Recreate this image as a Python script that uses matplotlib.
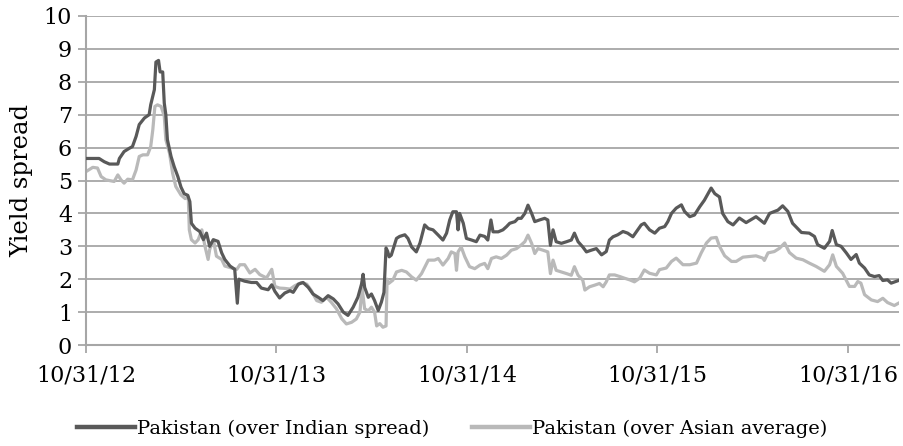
import matplotlib
matplotlib.use("Agg")
import matplotlib.pyplot as plt
import matplotlib.dates as mdates
import pandas as pd

plt.rcParams['font.family'] = ['DejaVu Serif', 'Liberation Serif']

start_date = "2012-10-31"
end_date = "2017-02-05"
tick_dates = ["2012-10-31", "2013-10-31", "2014-10-31", "2015-10-31", "2016-10-31"]
y_ticks = [0, 1, 2, 3, 4, 5, 6, 7, 8, 9, 10]
series_names = ["Pakistan (over Indian spread)", "Pakistan (over Asian average)"]
y_label = "Yield spread"

# days since 2012-10-31
india_days = [0, 25, 35, 45, 61, 64, 73, 83, 89, 96, 102, 112, 121, 124, 131, 134, 139, 142, 147, 150,
              153, 156, 163, 169, 176, 182, 188, 195, 199, 202, 209, 218, 225, 231, 237, 244, 253, 260,
              266, 276, 285, 290, 293, 304, 317, 327, 336, 349, 356, 362, 371, 381, 391, 397, 407, 416,
              426, 435, 445, 454, 464, 474, 483, 493, 502, 512, 521, 528, 531, 534, 541, 547, 553, 560,
              566, 571, 575, 578, 581, 585, 595, 601, 611, 617, 624, 633, 640, 649, 656, 665, 675, 684,
              691, 697, 703, 710, 713, 716, 723, 729, 739, 748, 755, 764, 770, 776, 780, 790, 799, 806,
              812, 822, 828, 834, 841, 847, 854, 860, 869, 879, 885, 890, 895, 901, 911, 921, 930, 936,
              943, 952, 959, 968, 978, 988, 997, 1003, 1010, 1019, 1029, 1038, 1048, 1055, 1064, 1070,
              1080, 1090, 1099, 1109, 1115, 1122, 1131, 1141, 1147, 1157, 1166, 1176, 1185, 1192, 1198,
              1205, 1214, 1220, 1230, 1240, 1252, 1265, 1284, 1300, 1310, 1326, 1335, 1345, 1354, 1371,
              1386, 1396, 1402, 1415, 1425, 1430, 1438, 1447, 1457, 1466, 1476, 1482, 1492, 1501, 1511,
              1520, 1527, 1536, 1543, 1552, 1557]
india_vals = [5.67, 5.67, 5.57, 5.5, 5.5, 5.67, 5.88, 5.98, 6.03, 6.34, 6.7, 6.9, 7.0, 7.3, 7.76, 8.6,
              8.65, 8.3, 8.3, 7.35, 7.0, 6.24, 5.73, 5.42, 5.12, 4.8, 4.6, 4.55, 4.36, 3.7, 3.55, 3.45,
              3.2, 3.4, 3.0, 3.2, 3.15, 2.8, 2.6, 2.4, 2.3, 1.27, 2.0, 1.94, 1.9, 1.9, 1.73, 1.68, 1.83,
              1.63, 1.43, 1.58, 1.65, 1.6, 1.85, 1.9, 1.75, 1.55, 1.45, 1.35, 1.5, 1.4, 1.25, 1.0, 0.9,
              1.15, 1.45, 1.85, 2.15, 1.75, 1.45, 1.55, 1.35, 1.05, 1.3, 1.6, 2.95, 2.85, 2.68, 2.73,
              3.24, 3.3, 3.35, 3.24, 2.98, 2.83, 3.1, 3.65, 3.54, 3.5, 3.34, 3.19, 3.4, 3.8, 4.05, 4.05,
              3.5, 4.0, 3.7, 3.24, 3.19, 3.14, 3.34, 3.3, 3.19, 3.8, 3.44, 3.44, 3.5, 3.6, 3.7, 3.75,
              3.85, 3.85, 4.0, 4.25, 4.0, 3.75, 3.8, 3.85, 3.8, 3.03, 3.5, 3.14, 3.09, 3.14, 3.19, 3.4,
              3.14, 2.98, 2.83, 2.88, 2.93, 2.74, 2.84, 3.19, 3.29, 3.35, 3.45, 3.4, 3.29, 3.45, 3.65,
              3.7, 3.5, 3.4, 3.55, 3.6, 3.75, 4.0, 4.16, 4.26, 4.06, 3.9, 3.95, 4.2, 4.4, 4.6, 4.77,
              4.6, 4.5, 4.0, 3.75, 3.65, 3.86, 3.72, 3.9, 3.7, 4.0, 4.1, 4.23, 4.06, 3.7, 3.42, 3.4,
              3.3, 3.05, 2.94, 3.15, 3.48, 3.05, 3.0, 2.8, 2.6, 2.75, 2.49, 2.34, 2.13, 2.08, 2.11,
              1.96, 1.98, 1.88, 1.93, 1.96]

asia_days = [0, 13, 22, 29, 38, 54, 61, 67, 73, 80, 89, 96, 102, 109, 118, 124, 128, 132, 137, 144,
             150, 153, 160, 166, 172, 182, 190, 196, 198, 202, 209, 215, 222, 228, 234, 237, 244, 250,
             260, 266, 279, 289, 295, 304, 314, 324, 333, 346, 356, 362, 371, 381, 391, 400, 413, 423,
             432, 442, 451, 461, 470, 480, 490, 499, 509, 518, 525, 529, 534, 541, 547, 553, 557, 563,
             569, 575, 577, 580, 588, 595, 605, 614, 624, 633, 643, 656, 668, 675, 684, 694, 700, 707,
             710, 713, 719, 726, 735, 745, 755, 764, 770, 777, 786, 796, 806, 815, 825, 834, 841, 847,
             854, 860, 866, 876, 885, 890, 895, 901, 911, 921, 930, 936, 943, 952, 956, 965, 975, 984,
             991, 997, 1003, 1013, 1023, 1032, 1042, 1051, 1061, 1070, 1080, 1093, 1099, 1112, 1122,
             1131, 1144, 1157, 1170, 1179, 1189, 1198, 1208, 1214, 1224, 1237, 1246, 1259, 1272, 1284,
             1297, 1300, 1307, 1319, 1329, 1339, 1348, 1361, 1374, 1386, 1399, 1415, 1425, 1431, 1438,
             1450, 1463, 1473, 1479, 1485, 1492, 1505, 1517, 1527, 1536, 1549, 1557]
asia_vals = [5.27, 5.4, 5.38, 5.12, 5.02, 4.97, 5.17, 5.02, 4.92, 5.04, 5.02, 5.32, 5.73, 5.78, 5.78,
             6.03, 6.54, 7.25, 7.3, 7.25, 6.95, 6.24, 5.83, 5.22, 4.82, 4.56, 4.45, 4.5, 3.5, 3.2, 3.1,
             3.2, 3.5, 3.0, 2.6, 2.9, 3.2, 2.7, 2.6, 2.4, 2.34, 2.3, 2.44, 2.44, 2.19, 2.3, 2.14, 2.04,
             2.3, 1.78, 1.73, 1.72, 1.7, 1.8, 1.9, 1.85, 1.65, 1.35, 1.3, 1.45, 1.3, 1.1, 0.8, 0.64,
             0.69, 0.79, 1.0, 1.75, 1.1, 1.04, 1.15, 1.0, 0.58, 0.65, 0.54, 0.58, 2.0, 1.87, 1.97, 2.22,
             2.27, 2.22, 2.07, 1.97, 2.17, 2.58, 2.58, 2.63, 2.43, 2.63, 2.83, 2.78, 2.27, 2.83, 2.98,
             2.68, 2.38, 2.32, 2.43, 2.48, 2.32, 2.63, 2.68, 2.63, 2.73, 2.88, 2.93, 3.04, 3.14, 3.34,
             3.09, 2.78, 2.93, 2.88, 2.83, 2.17, 2.58, 2.27, 2.22, 2.17, 2.12, 2.38, 2.12, 1.97, 1.67,
             1.77, 1.82, 1.87, 1.77, 1.92, 2.13, 2.13, 2.08, 2.03, 1.98, 1.92, 2.03, 2.28, 2.18, 2.13,
             2.29, 2.34, 2.54, 2.64, 2.44, 2.44, 2.49, 2.8, 3.1, 3.25, 3.27, 3.0, 2.71, 2.54, 2.54,
             2.67, 2.69, 2.71, 2.64, 2.57, 2.8, 2.84, 2.94, 3.1, 2.81, 2.64, 2.59, 2.49, 2.39, 2.24,
             2.44, 2.74, 2.39, 2.18, 1.78, 1.78, 1.93, 1.88, 1.53, 1.37, 1.32, 1.42, 1.29, 1.2, 1.27]

t0 = pd.Timestamp(start_date)
india_dates = [t0 + pd.Timedelta(days=d) for d in india_days]
asia_dates = [t0 + pd.Timedelta(days=d) for d in asia_days]

fig = plt.figure(figsize=(9.04, 4.46), dpi=100)
ax = fig.add_axes([86 / 904, 1 - 345 / 446, 813 / 904, 329 / 446])

grid_c = '#a6a6a6'
ax.plot(india_dates, india_vals, color='#595959', lw=2.3, label=series_names[0], zorder=3,
        solid_joinstyle='round')
ax.plot(asia_dates, asia_vals, color='#b9b9b9', lw=2.3, label=series_names[1], zorder=2,
        solid_joinstyle='round')

ax.set_ylim(0, 10)
ax.set_yticks(y_ticks)
ax.set_xlim(pd.Timestamp(start_date), pd.Timestamp(end_date))
ax.set_xticks([pd.Timestamp(d) for d in tick_dates])
ax.xaxis.set_major_formatter(mdates.DateFormatter('%m/%d/%y'))

ax.grid(axis='y', color=grid_c, lw=1.3)
ax.set_axisbelow(True)
for s in ['top', 'right']:
    ax.spines[s].set_visible(False)
for s in ['left', 'bottom']:
    ax.spines[s].set_color(grid_c)
    ax.spines[s].set_linewidth(1.5)
ax.tick_params(axis='both', colors=grid_c, length=6, width=1.3, labelsize=16, labelcolor='black')
ax.tick_params(axis='x', pad=8)
ax.tick_params(axis='y', pad=4)

ax.set_ylabel(y_label, fontsize=17.5, va='center')
ax.yaxis.set_label_coords(-0.079, 0.5)

leg = fig.legend(loc='center', bbox_to_anchor=(0.5, 0.038), ncol=2, frameon=False,
                 fontsize=14, handlelength=3.0, handletextpad=0.1, columnspacing=2.2)
for line in leg.get_lines():
    line.set_linewidth(3.2)

fig.savefig('out.png', dpi=100)
